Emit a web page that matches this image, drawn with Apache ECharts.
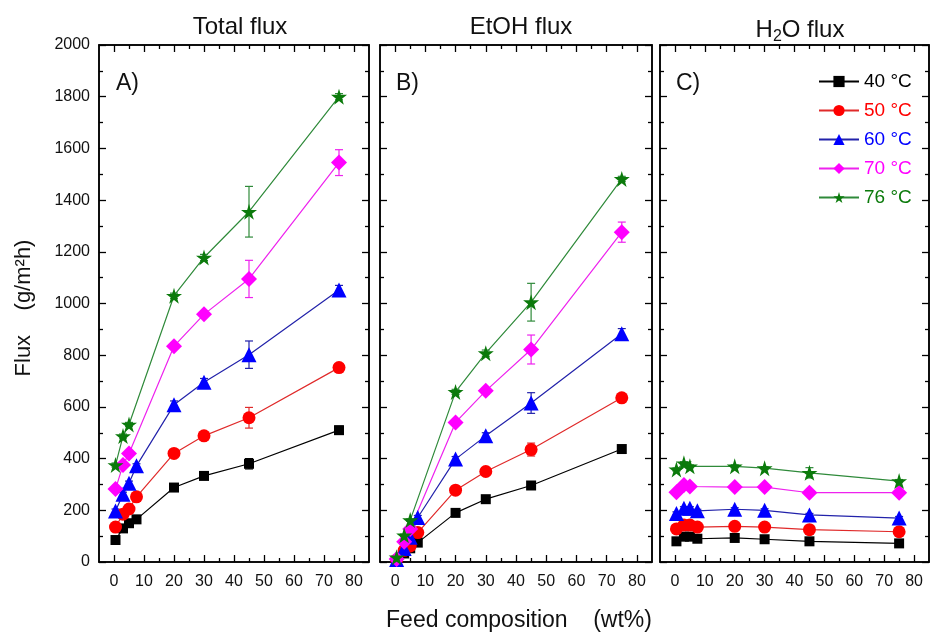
<!DOCTYPE html>
<html><head><meta charset="utf-8">
<script src="https://cdn.jsdelivr.net/npm/echarts@6/dist/echarts.min.js"></script>
<style>html,body{margin:0;padding:0;background:#fff}#c{width:931px;height:632px}</style>
</head><body><div id="c"></div>
<script>
// ---- data ----
const xFull = [0.5, 3, 5, 7.5, 20, 30, 45, 75];   // 40, 50, 60 °C
const xShort = [0.5, 3, 5, 20, 30, 45, 75];       // 70, 76 °C
const temps = ['40 °C', '50 °C', '60 °C', '70 °C', '76 °C'];
const xTickLabels = [0, 10, 20, 30, 40, 50, 60, 70, 80];
const xMinorTicks = [5, 15, 25, 35, 45, 55, 65, 75];

const total40 = [85, 130, 150, 165, 288, 333, 380, 510];
const total50 = [135, 185, 205, 252, 420, 488, 558, 752];
const total60 = [197, 262, 305, 372, 608, 695, 802, 1052];
const total70 = [282, 375, 420, 835, 958, 1095, 1545];
const total76 = [375, 487, 532, 1030, 1178, 1355, 1800];
const totalErr40 = [10, 10, 10, 10, 15, 12, 20, 15];
const totalErr50 = [8, 8, 8, 8, 12, 12, 40, 12];
const totalErr60 = [8, 8, 8, 8, 15, 15, 53, 18];
const totalErr70 = [8, 8, 8, 12, 12, 72, 50];
const totalErr76 = [8, 8, 8, 10, 12, 98, 12];

const etoh40 = [5, 33, 53, 75, 190, 243, 296, 437];
const etoh50 = [8, 45, 62, 114, 278, 350, 435, 635];
const etoh60 = [10, 52, 96, 172, 398, 488, 615, 883];
const etoh70 = [12, 78, 128, 540, 662, 822, 1276];
const etoh76 = [18, 103, 162, 658, 808, 1005, 1482];
const etohErr40 = [3, 5, 5, 8, 12, 12, 15, 12];
const etohErr50 = [3, 5, 5, 8, 10, 10, 25, 12];
const etohErr60 = [3, 5, 5, 8, 10, 12, 40, 20];
const etohErr70 = [3, 5, 5, 10, 12, 56, 39];
const etohErr76 = [3, 5, 5, 10, 12, 73, 10];

const h2o40 = [80, 98, 98, 90, 93, 88, 80, 72];
const h2o50 = [128, 143, 143, 135, 138, 135, 125, 117];
const h2o60 = [188, 208, 208, 198, 204, 200, 182, 170];
const h2o70 = [270, 298, 292, 290, 290, 268, 268];
const h2o76 = [358, 382, 370, 370, 363, 345, 313];
const h2oErr40 = [6, 6, 6, 6, 6, 6, 6, 6];
const h2oErr50 = [6, 6, 6, 6, 6, 6, 6, 6];
const h2oErr60 = [6, 6, 6, 6, 6, 6, 6, 6];
const h2oErr70 = [6, 6, 6, 6, 6, 6, 6];
const h2oErr76 = [6, 6, 6, 6, 6, 20, 6];

// ---- styles ----
const STAR = 'path://M50,0 L61,35 L98,35 L68,57 L79,91 L50,70 L21,91 L32,57 L2,35 L39,35 Z';
const styles = [
  {marker: '#000000', line: '#000000', symbol: 'rect', size: 10},
  {marker: '#ff0000', line: '#e02a2a', symbol: 'circle', size: 13},
  {marker: '#0000ff', line: '#2222aa', symbol: 'triangle', size: 15},
  {marker: '#ff00ff', line: '#ee22ee', symbol: 'diamond', size: 16},
  {marker: '#0b7a0b', line: '#2f8a3a', symbol: STAR, size: 16}
];
const xs = [xFull, xFull, xFull, xShort, xShort];
const panels = [
  {vals: [total40, total50, total60, total70, total76], errs: [totalErr40, totalErr50, totalErr60, totalErr70, totalErr76]},
  {vals: [etoh40, etoh50, etoh60, etoh70, etoh76], errs: [etohErr40, etohErr50, etohErr60, etohErr70, etohErr76]},
  {vals: [h2o40, h2o50, h2o60, h2o70, h2o76], errs: [h2oErr40, h2oErr50, h2oErr60, h2oErr70, h2oErr76]}
];
const gridPos = [{left: 99, width: 270}, {left: 380, width: 272}, {left: 660, width: 269}];
const TOP = 45, HEIGHT = 517;
const FONT = '"Liberation Sans", Arial, sans-serif';

const grid = [], xAxis = [], yAxis = [], series = [];
gridPos.forEach(g => grid.push({left: g.left, width: g.width, top: TOP, height: HEIGHT, show: true,
  borderColor: '#000', borderWidth: 1.5, backgroundColor: 'transparent'}));
gridPos.forEach(g => grid.push({left: g.left, width: g.width, top: TOP, height: HEIGHT, show: false}));

const tickStyle = {color: '#000', width: 1.3};
for (let p = 0; p < 3; p++) {
  ['bottom', 'top'].forEach(pos => xAxis.push({
    gridIndex: p, type: 'value', position: pos, min: -5, max: 85, interval: 5,
    axisLine: {show: true, onZero: false, lineStyle: {color: '#000', width: 1.5}},
    axisTick: {show: true, inside: true, length: 7, lineStyle: tickStyle, customValues: xTickLabels},
    axisLabel: {show: pos === 'bottom', customValues: xTickLabels, color: '#111', fontSize: 16,
      fontFamily: FONT, margin: 12},
    splitLine: {show: false}
  }));
  ['left', 'right'].forEach(pos => yAxis.push({
    gridIndex: p, type: 'value', position: pos, min: 0, max: 2000, interval: 200,
    axisLine: {show: true, onZero: false, lineStyle: {color: '#000', width: 1.5}},
    axisTick: {show: true, inside: true, length: 7, lineStyle: tickStyle},
    minorTick: {show: true, splitNumber: 2, length: 4, lineStyle: tickStyle},
    axisLabel: {show: p === 0 && pos === 'left', color: '#111', fontSize: 16, fontFamily: FONT, margin: 9,
      formatter: v => String(v)},
    splitLine: {show: false}
  }));
}
for (let p = 0; p < 3; p++) {
  ['bottom', 'top'].forEach(pos => xAxis.push({
    gridIndex: p + 3, type: 'value', position: pos, min: -5, max: 85, interval: 5,
    axisLine: {show: false, onZero: false},
    axisTick: {show: true, inside: true, length: 4, lineStyle: tickStyle, customValues: xMinorTicks},
    axisLabel: {show: false}, splitLine: {show: false}
  }));
  yAxis.push({gridIndex: p + 3, type: 'value', min: 0, max: 2000, show: false});
}

for (let p = 0; p < 3; p++) {
  for (let t = 0; t < 5; t++) {
    const st = styles[t];
    const vals = panels[p].vals[t], errs = panels[p].errs[t], xv = xs[t];
    series.push({
      type: 'custom', name: 'err' + p + t, xAxisIndex: 2 * p, yAxisIndex: 2 * p, z: 2,
      encode: {x: 0, y: [1, 2]}, silent: true,
      data: xv.map((x, i) => [x, vals[i] - errs[i], vals[i] + errs[i]]),
      renderItem: function (params, api) {
        const x = api.value(0);
        const a = api.coord([x, api.value(1)]), b = api.coord([x, api.value(2)]);
        const w = 4, s = {stroke: st.line, lineWidth: 1.2};
        return {type: 'group', children: [
          {type: 'line', shape: {x1: a[0], y1: a[1], x2: b[0], y2: b[1]}, style: s},
          {type: 'line', shape: {x1: a[0] - w, y1: a[1], x2: a[0] + w, y2: a[1]}, style: s},
          {type: 'line', shape: {x1: b[0] - w, y1: b[1], x2: b[0] + w, y2: b[1]}, style: s}
        ]};
      }
    });
    series.push({
      type: 'line', name: temps[t], xAxisIndex: 2 * p, yAxisIndex: 2 * p, z: 3,
      data: xv.map((x, i) => [x, vals[i]]),
      symbol: st.symbol, symbolSize: st.size, showSymbol: true,
      itemStyle: {color: st.marker},
      lineStyle: {color: st.line, width: 1.2},
      emphasis: {disabled: true}, animation: false
    });
  }
}

const titleStyle = {color: '#111', fontSize: 24, fontFamily: FONT, fontWeight: 'normal'};
const letterStyle = {color: '#111', fontSize: 23, fontFamily: FONT, fontWeight: 'normal'};
const option = {
  animation: false,
  backgroundColor: '#fff',
  grid, xAxis, yAxis, series,
  title: [
    {text: 'Total flux', left: 235, top: 10, textAlign: 'center', textStyle: titleStyle},
    {text: 'EtOH flux', left: 516, top: 10, textAlign: 'center', textStyle: titleStyle},
    {text: 'H{sub|2}O flux', left: 795, top: 10, textAlign: 'center',
      textStyle: Object.assign({}, titleStyle, {rich: {sub: {fontSize: 16, fontFamily: FONT, color: '#111', verticalAlign: 'bottom', padding: [14, 0, 0, 0]}}})},
    {text: 'A)', left: 111, top: 67, textStyle: letterStyle},
    {text: 'B)', left: 391, top: 67, textStyle: letterStyle},
    {text: 'C)', left: 671, top: 67, textStyle: letterStyle}
  ],
  legend: {
    orient: 'vertical', left: 813, top: 67, itemWidth: 40, itemHeight: 14, itemGap: 10,
    selectedMode: false,
    data: temps.map((n, t) => ({name: n, textStyle: {color: styles[t].marker, fontSize: 19, fontFamily: FONT}})),
    textStyle: {fontSize: 19, fontFamily: FONT}
  },
  graphic: [
    {type: 'text', x: 24, y: 308, rotation: Math.PI / 2,
      style: {text: 'Flux    (g/m²h)', fontSize: 22, fontFamily: FONT, fill: '#111', textAlign: 'center', textVerticalAlign: 'middle'}},
    {type: 'text', x: 519, y: 621,
      style: {text: 'Feed composition    (wt%)', fontSize: 23, fontFamily: FONT, fill: '#111', textAlign: 'center', textVerticalAlign: 'middle'}}
  ]
};
const chart = echarts.init(document.getElementById('c'), null, {renderer: 'canvas'});
chart.setOption(option);
</script></body></html>
